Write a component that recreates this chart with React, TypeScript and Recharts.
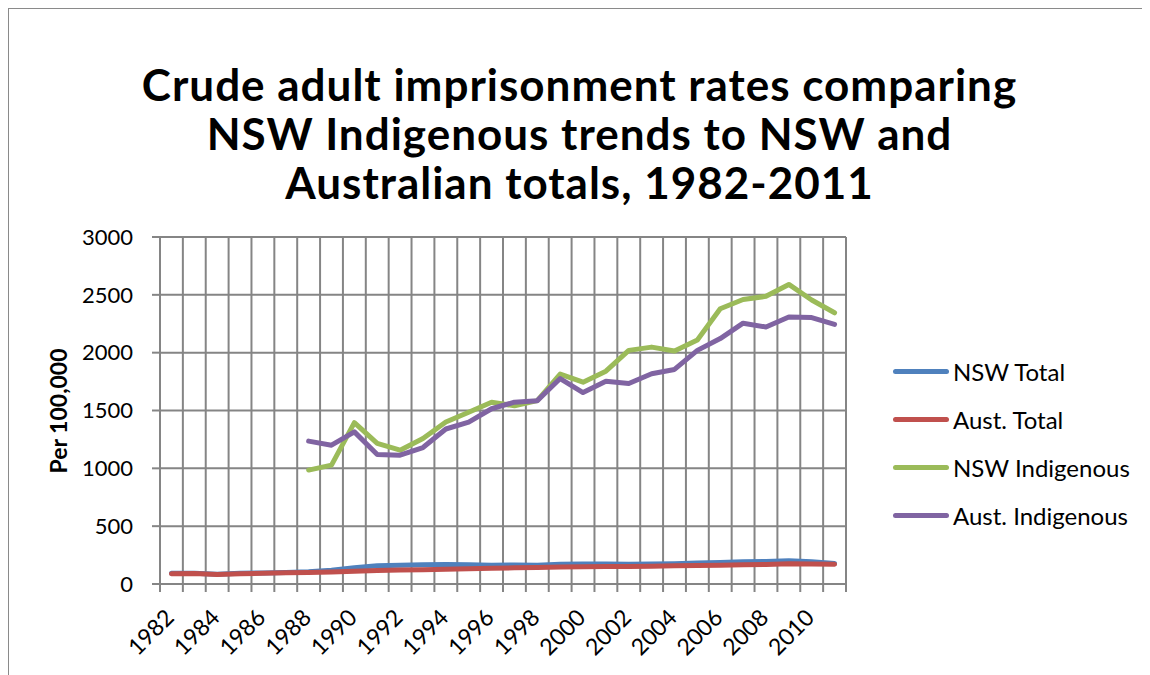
import React from 'react';
import { LineChart, Line, XAxis, YAxis, CartesianGrid } from 'recharts';

// Values (rate per 100,000 adults)
const years = [
    1982, 1983, 1984, 1985, 1986, 1987, 1988, 1989, 1990, 1991,
    1992, 1993, 1994, 1995, 1996, 1997, 1998, 1999, 2000, 2001,
    2002, 2003, 2004, 2005, 2006, 2007, 2008, 2009, 2010, 2011,
];

const nswTotal = [
    92, 93, 85, 92, 96, 100, 106, 118, 140, 158,
    163, 166, 168, 166, 163, 164, 162, 170, 172, 172,
    170, 172, 175, 182, 186, 192, 195, 202, 192, 178,
];

const austTotal = [
    89, 90, 82, 88, 93, 97, 100, 103, 110, 116,
    120, 124, 128, 132, 136, 140, 142, 147, 150, 151,
    152, 154, 157, 160, 163, 166, 168, 175, 172, 170,
];

// Indigenous series start in 1988
const nswIndigenous = [
    null, null, null, null, null, null, 985, 1028, 1395, 1215,
    1157, 1258, 1400, 1485, 1572, 1540, 1585, 1815, 1745, 1840,
    2020, 2048, 2015, 2110, 2380, 2460, 2487, 2590, 2455, 2345,
];

const austIndigenous = [
    null, null, null, null, null, null, 1235, 1200, 1315, 1120,
    1114, 1180, 1340, 1400, 1515, 1572, 1585, 1776, 1655, 1753,
    1733, 1818, 1855, 2020, 2122, 2255, 2222, 2308, 2303, 2245,
];

const yTicks = [0, 500, 1000, 1500, 2000, 2500, 3000];
const xLabelYears = [1982, 1984, 1986, 1988, 1990, 1992, 1994, 1996, 1998, 2000, 2002, 2004, 2006, 2008, 2010];

const series = [
    { key: 'nswTotal', name: 'NSW Total', color: '#4F81BD' },
    { key: 'austTotal', name: 'Aust. Total', color: '#C0504D' },
    { key: 'nswIndigenous', name: 'NSW Indigenous', color: '#9BBB59' },
    { key: 'austIndigenous', name: 'Aust. Indigenous', color: '#8064A2' },
];

const data = years.map((year, i) => ({
    year,
    nswTotal: nswTotal[i],
    austTotal: austTotal[i],
    nswIndigenous: nswIndigenous[i],
    austIndigenous: austIndigenous[i],
}));

// gridlines sit between the years, like Excel's category axis
const boundaries = [...years.map((y) => y - 0.5), years[years.length - 1] + 0.5];
const xDomain = [boundaries[0], boundaries[boundaries.length - 1]];

const FONT = 'Lato, "Open Sans", sans-serif';
const GRID = '#858585';

const EmptyTick = () => <g />;

const YearTick = (props: any) => {
    const { x, y, payload } = props;
    return (
        <g transform={`translate(${x + 4},${y + 34})`}>
            <text x={0} y={0} textAnchor="end" transform="rotate(-45)" fontSize={23} fontFamily={FONT} fill="#000">
                {payload.value}
            </text>
        </g>
    );
};

const App: React.FC = () => {
    return (
        <div
            style={{
                position: 'relative',
                width: 1142,
                height: 667,
                boxSizing: 'border-box',
                borderTop: '1px solid #8a8a8a',
                borderLeft: '1px solid #8a8a8a',
                background: '#fff',
                fontFamily: FONT,
            }}
        >
            {/* Title */}
            <div
                style={{
                    position: 'absolute',
                    left: 0,
                    top: 51,
                    width: 1141,
                    textAlign: 'center',
                    fontSize: 44,
                    lineHeight: '49px',
                    letterSpacing: 1,
                    fontWeight: 700,
                    color: '#000',
                }}
            >
                Crude adult imprisonment rates comparing
                <br />
                NSW Indigenous trends to NSW and
                <br />
                Australian totals, 1982-2011
            </div>

            {/* Y axis title */}
            <div
                style={{
                    position: 'absolute',
                    left: 49,
                    top: 402,
                    transform: 'translate(-50%, -50%) rotate(-90deg)',
                    fontSize: 23,
                    fontWeight: 700,
                    whiteSpace: 'nowrap',
                }}
            >
                Per 100,000
            </div>

            <div style={{ position: 'absolute', left: 0, top: 0 }}>
                <LineChart width={1141} height={666} data={data} margin={{ top: 228, right: 304, bottom: 30, left: 91 }}>
                    <CartesianGrid stroke={GRID} strokeWidth={2} />
                    <XAxis
                        dataKey="year"
                        type="number"
                        domain={xDomain}
                        ticks={boundaries}
                        interval={0}
                        tick={<EmptyTick />}
                        tickSize={8}
                        height={1}
                        axisLine={{ stroke: GRID, strokeWidth: 2 }}
                        tickLine={{ stroke: GRID, strokeWidth: 2 }}
                    />
                    <XAxis
                        xAxisId="label"
                        dataKey="year"
                        type="number"
                        domain={xDomain}
                        ticks={xLabelYears}
                        interval={0}
                        tick={<YearTick />}
                        tickSize={0}
                        tickMargin={0}
                        height={60}
                        axisLine={false}
                        tickLine={false}
                    />
                    <YAxis
                        domain={[0, 3000]}
                        ticks={yTicks}
                        width={60}
                        tickSize={8}
                        tickMargin={19}
                        axisLine={{ stroke: GRID, strokeWidth: 2 }}
                        tickLine={{ stroke: GRID, strokeWidth: 2 }}
                        tick={{ fontSize: 22, fontFamily: FONT, fill: '#000' }}
                    />
                    {series.map((s) => (
                        <Line
                            key={s.key}
                            dataKey={s.key}
                            name={s.name}
                            stroke={s.color}
                            strokeWidth={5}
                            strokeLinecap="round"
                            strokeLinejoin="round"
                            dot={false}
                            activeDot={false}
                            isAnimationActive={false}
                        />
                    ))}
                </LineChart>
            </div>

            {/* Legend */}
            <div style={{ position: 'absolute', left: 884, top: 338 }}>
                {series.map((s) => (
                    <div key={s.key} style={{ display: 'flex', alignItems: 'center', height: 48.2 }}>
                        <div style={{ width: 56, height: 5, borderRadius: 3, background: s.color, marginRight: 4 }} />
                        <span style={{ fontSize: 24, color: '#000', whiteSpace: 'nowrap' }}>{s.name}</span>
                    </div>
                ))}
            </div>
        </div>
    );
};

export default App;
